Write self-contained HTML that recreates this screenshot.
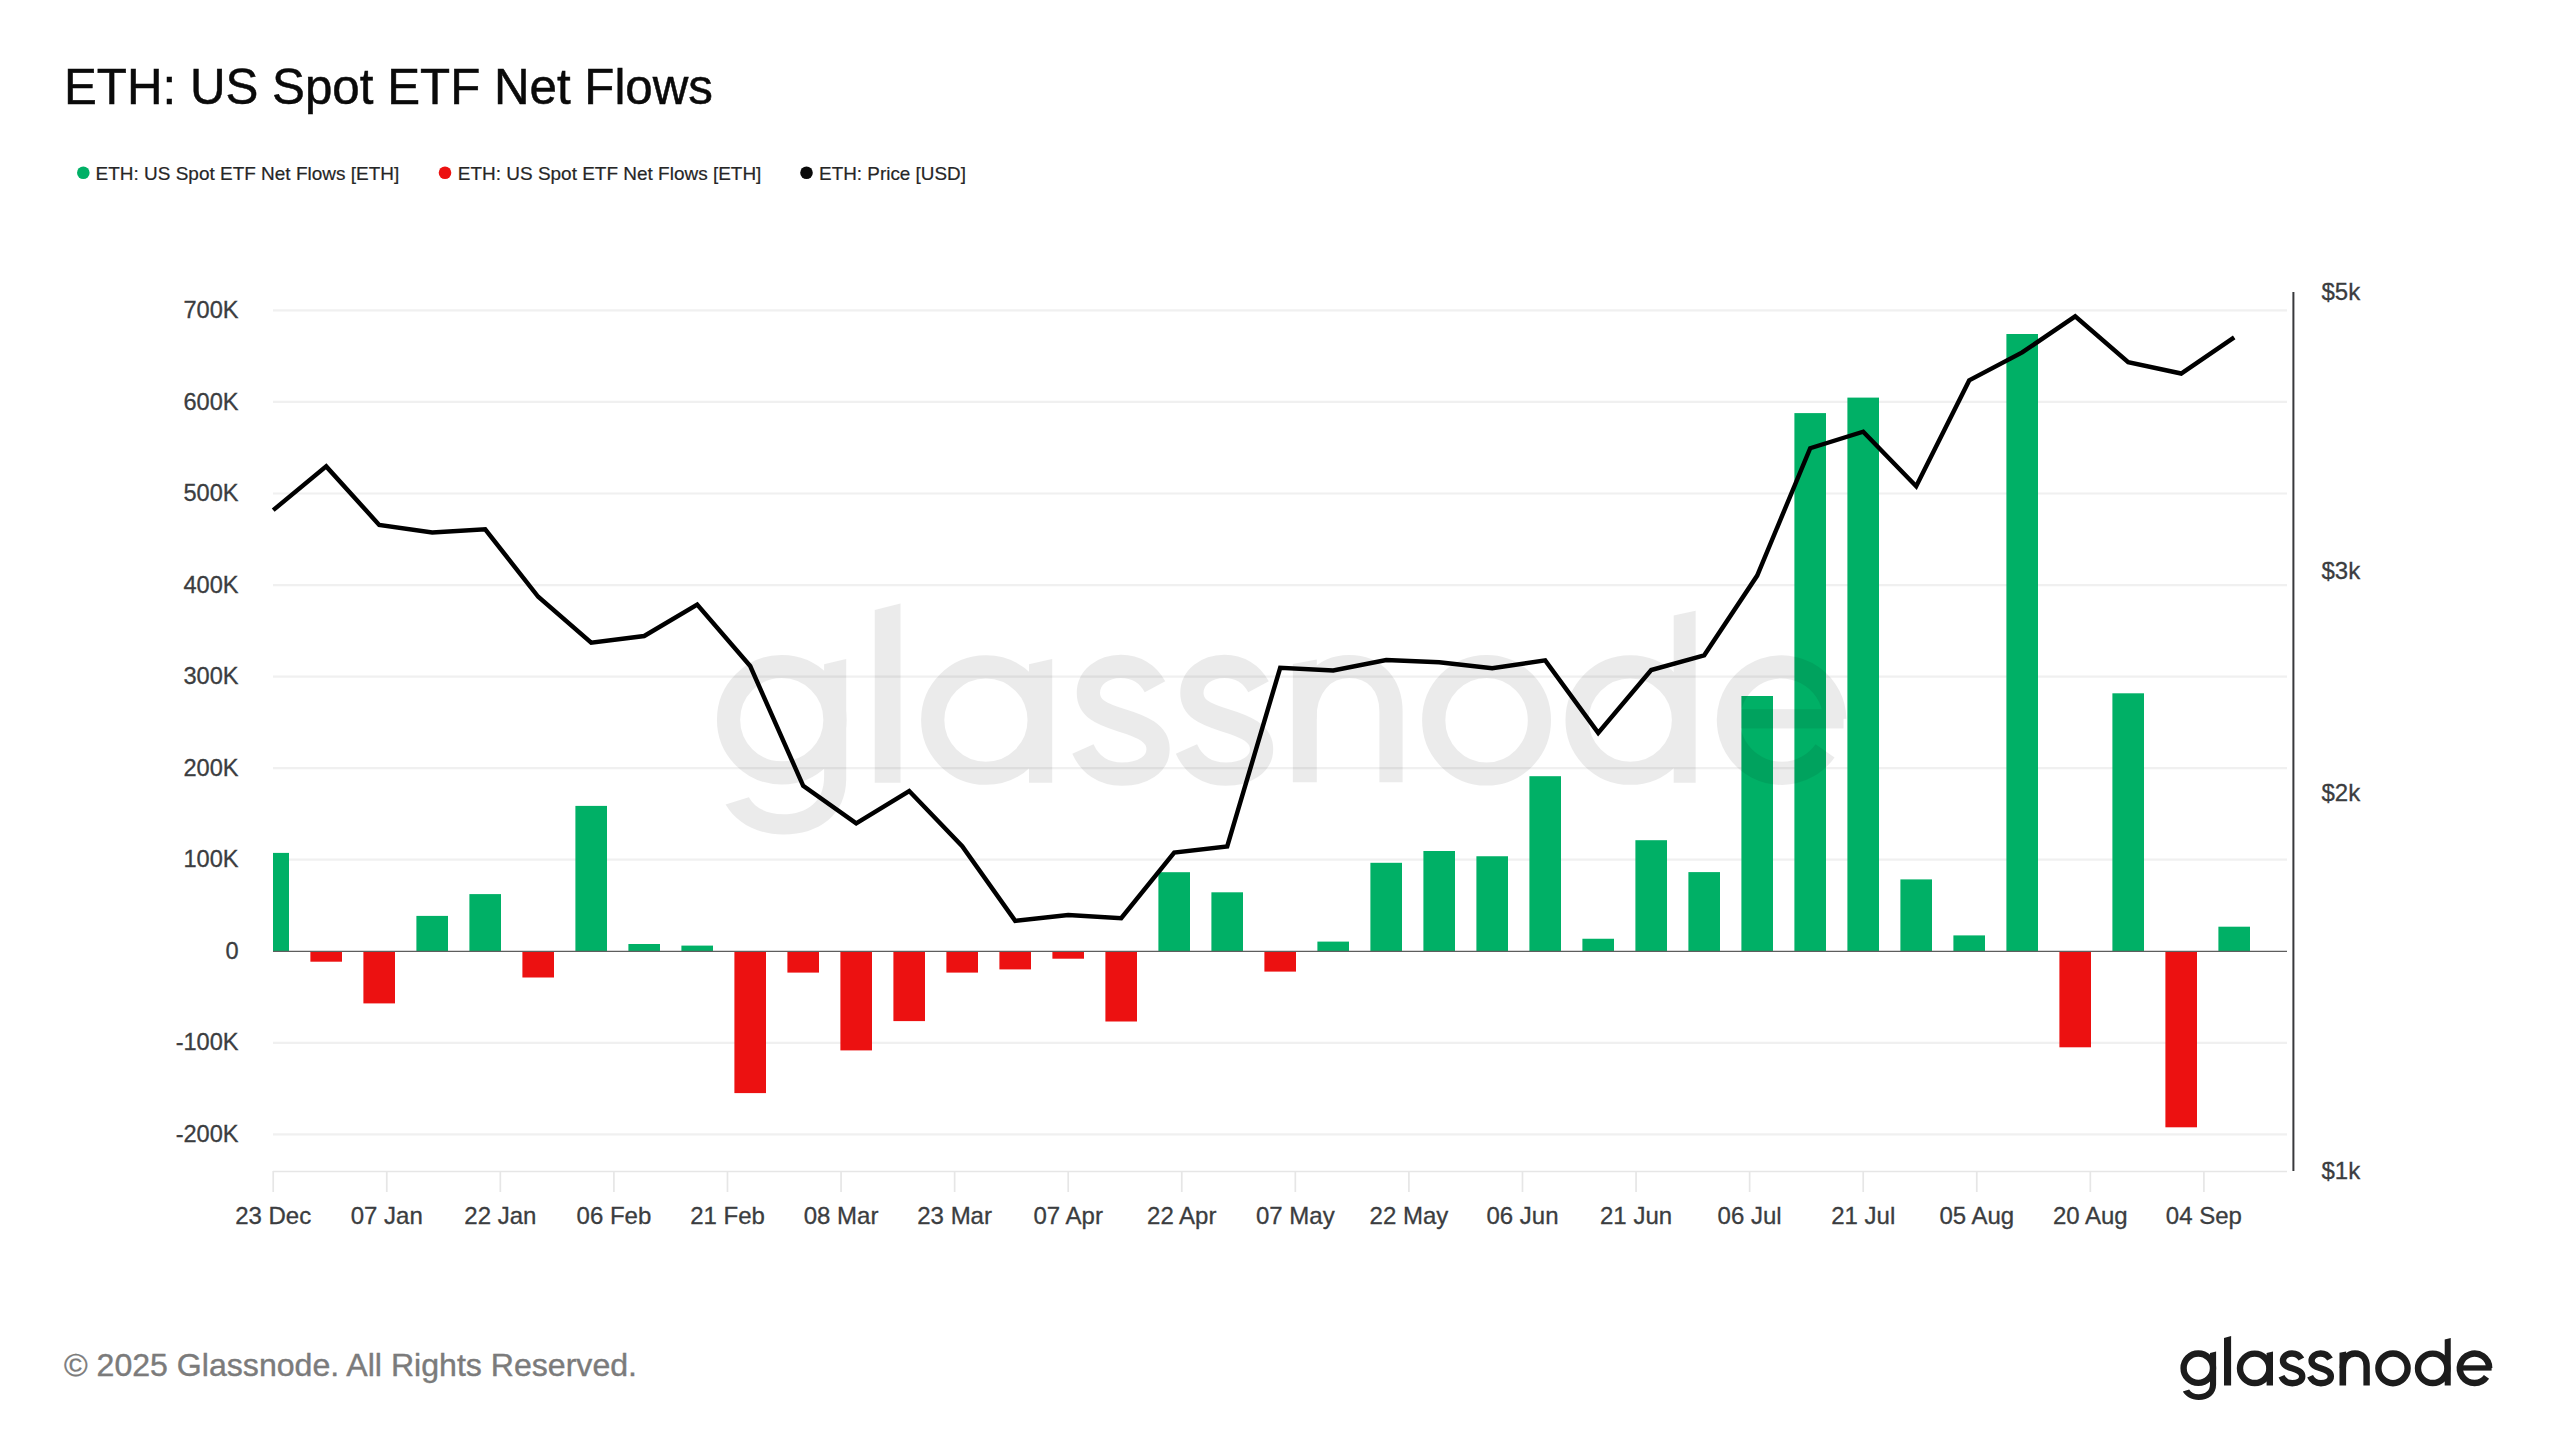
<!DOCTYPE html>
<html><head><meta charset="utf-8">
<style>
html,body{margin:0;padding:0;background:#fff;width:2560px;height:1440px;overflow:hidden}
svg{display:block}
text{font-family:"Liberation Sans",sans-serif}
.yl{font-size:23.6px;fill:#3b3d40;stroke:#3b3d40;stroke-width:0.3px}
.yr{font-size:24px;fill:#3b3d40;stroke:#3b3d40;stroke-width:0.3px}
.xl{font-size:24px;fill:#3b3d40;stroke:#3b3d40;stroke-width:0.3px}
.lg{font-size:19px;fill:#262626;stroke:#262626;stroke-width:0.2px}
</style></head><body>
<svg width="2560" height="1440" viewBox="0 0 2560 1440">
<defs><g id="gn"><circle cx="2198.3" cy="1368.2" r="14.7" fill="none" stroke-width="6.4"/><path stroke="none" d="M2210.0,1352.9 L2216.1,1351.4 L2216.1,1384.5 C2216.1,1394.5 2208.5,1399.9 2198.8,1399.9 C2191.2,1399.9 2185.6,1396.4 2182.8,1391.6 L2189.2,1389.6 C2190.9,1392.6 2194.2,1394.3 2198.6,1394.3 C2205.6,1394.3 2210.0,1390.6 2210.0,1384.0 Z"/><path stroke="none" d="M2224.0,1337.9 L2231.1,1336.1 L2231.1,1385.6 L2224.0,1385.6 Z"/><circle cx="2254.7" cy="1368.3" r="14.7" fill="none" stroke-width="6.4"/><path stroke="none" d="M2266.6,1352.9 L2273.0,1351.4 L2273.0,1385.6 L2266.6,1385.6 Z"/><path fill="none" stroke-width="6.4" d="M2301.4,1359.1 C2299.5,1355.5 2296,1353.45 2292,1353.45 C2287,1353.45 2283,1356.5 2283,1360.8 C2283,1365 2286.5,1366.6 2292,1368.3 C2298,1370.1 2302.25,1372 2302.25,1376.3 C2302.25,1380.6 2298,1383.25 2292.3,1383.25 C2287,1383.25 2283.4,1380.6 2281.5,1376.3"/><path fill="none" stroke-width="6.4" transform="translate(28.6,0)" d="M2301.4,1359.1 C2299.5,1355.5 2296,1353.45 2292,1353.45 C2287,1353.45 2283,1356.5 2283,1360.8 C2283,1365 2286.5,1366.6 2292,1368.3 C2298,1370.1 2302.25,1372 2302.25,1376.3 C2302.25,1380.6 2298,1383.25 2292.3,1383.25 C2287,1383.25 2283.4,1380.6 2281.5,1376.3"/><path stroke="none" d="M2339.5,1352.8 L2346.1,1351.6 L2346.1,1385.5 L2339.5,1385.5 Z"/><path fill="none" stroke-width="6.4" d="M2342.8,1368 C2342.8,1359 2348,1353.5 2355,1353.5 C2362.2,1353.5 2366.6,1358.6 2366.6,1366 L2366.6,1385.5"/><ellipse cx="2393.0" cy="1368.35" rx="14.6" ry="14.85" fill="none" stroke-width="6.4"/><circle cx="2432.7" cy="1368.3" r="14.7" fill="none" stroke-width="6.4"/><path stroke="none" d="M2444.7,1339.4 L2450.75,1338.1 L2450.75,1385.6 L2444.7,1385.6 Z"/><rect stroke="none" x="2461" y="1365.3" width="30.6" height="5.3"/><path fill="none" stroke-width="6.4" d="M2489.2,1368.0 A14.7,14.7 0 1 0 2486.5,1376.8"/></g></defs>
<rect width="2560" height="1440" fill="#fff"/>
<text x="64" y="103.9" style="font-size:50px;fill:#0a0a0a" textLength="649" stroke="#0a0a0a" stroke-width="0.5" lengthAdjust="spacingAndGlyphs">ETH: US Spot ETF Net Flows</text>
<circle cx="83.3" cy="172.8" r="6.3" fill="#00b066"/>
<text x="95.6" y="179.7" class="lg" textLength="303.6" lengthAdjust="spacingAndGlyphs">ETH: US Spot ETF Net Flows [ETH]</text>
<circle cx="445" cy="172.8" r="6.3" fill="#ec1111"/>
<text x="457.8" y="179.7" class="lg" textLength="303.6" lengthAdjust="spacingAndGlyphs">ETH: US Spot ETF Net Flows [ETH]</text>
<circle cx="806.5" cy="172.8" r="6.3" fill="#0a0a0a"/>
<text x="819.1" y="179.7" class="lg" textLength="146.8" lengthAdjust="spacingAndGlyphs">ETH: Price [USD]</text>
<line x1="273" y1="310.4" x2="2287" y2="310.4" stroke="#f0f0f0" stroke-width="2.2"/><line x1="273" y1="401.95" x2="2287" y2="401.95" stroke="#f0f0f0" stroke-width="2.2"/><line x1="273" y1="493.5" x2="2287" y2="493.5" stroke="#f0f0f0" stroke-width="2.2"/><line x1="273" y1="585.05" x2="2287" y2="585.05" stroke="#f0f0f0" stroke-width="2.2"/><line x1="273" y1="676.6" x2="2287" y2="676.6" stroke="#f0f0f0" stroke-width="2.2"/><line x1="273" y1="768.15" x2="2287" y2="768.15" stroke="#f0f0f0" stroke-width="2.2"/><line x1="273" y1="859.7" x2="2287" y2="859.7" stroke="#f0f0f0" stroke-width="2.2"/><line x1="273" y1="1042.8" x2="2287" y2="1042.8" stroke="#f0f0f0" stroke-width="2.2"/><line x1="273" y1="1134.35" x2="2287" y2="1134.35" stroke="#f0f0f0" stroke-width="2.2"/><line x1="273" y1="1171.5" x2="2287" y2="1171.5" stroke="#e6e6e6" stroke-width="1.7"/><line x1="273.2" y1="1171" x2="273.2" y2="1192" stroke="#e6e6e6" stroke-width="1.7"/><text x="273.2" y="1223.5" text-anchor="middle" class="xl">23 Dec</text><line x1="386.77" y1="1171" x2="386.77" y2="1192" stroke="#e6e6e6" stroke-width="1.7"/><text x="386.77" y="1223.5" text-anchor="middle" class="xl">07 Jan</text><line x1="500.34" y1="1171" x2="500.34" y2="1192" stroke="#e6e6e6" stroke-width="1.7"/><text x="500.34" y="1223.5" text-anchor="middle" class="xl">22 Jan</text><line x1="613.91" y1="1171" x2="613.91" y2="1192" stroke="#e6e6e6" stroke-width="1.7"/><text x="613.91" y="1223.5" text-anchor="middle" class="xl">06 Feb</text><line x1="727.49" y1="1171" x2="727.49" y2="1192" stroke="#e6e6e6" stroke-width="1.7"/><text x="727.49" y="1223.5" text-anchor="middle" class="xl">21 Feb</text><line x1="841.06" y1="1171" x2="841.06" y2="1192" stroke="#e6e6e6" stroke-width="1.7"/><text x="841.06" y="1223.5" text-anchor="middle" class="xl">08 Mar</text><line x1="954.63" y1="1171" x2="954.63" y2="1192" stroke="#e6e6e6" stroke-width="1.7"/><text x="954.63" y="1223.5" text-anchor="middle" class="xl">23 Mar</text><line x1="1068.2" y1="1171" x2="1068.2" y2="1192" stroke="#e6e6e6" stroke-width="1.7"/><text x="1068.2" y="1223.5" text-anchor="middle" class="xl">07 Apr</text><line x1="1181.77" y1="1171" x2="1181.77" y2="1192" stroke="#e6e6e6" stroke-width="1.7"/><text x="1181.77" y="1223.5" text-anchor="middle" class="xl">22 Apr</text><line x1="1295.34" y1="1171" x2="1295.34" y2="1192" stroke="#e6e6e6" stroke-width="1.7"/><text x="1295.34" y="1223.5" text-anchor="middle" class="xl">07 May</text><line x1="1408.91" y1="1171" x2="1408.91" y2="1192" stroke="#e6e6e6" stroke-width="1.7"/><text x="1408.91" y="1223.5" text-anchor="middle" class="xl">22 May</text><line x1="1522.49" y1="1171" x2="1522.49" y2="1192" stroke="#e6e6e6" stroke-width="1.7"/><text x="1522.49" y="1223.5" text-anchor="middle" class="xl">06 Jun</text><line x1="1636.06" y1="1171" x2="1636.06" y2="1192" stroke="#e6e6e6" stroke-width="1.7"/><text x="1636.06" y="1223.5" text-anchor="middle" class="xl">21 Jun</text><line x1="1749.63" y1="1171" x2="1749.63" y2="1192" stroke="#e6e6e6" stroke-width="1.7"/><text x="1749.63" y="1223.5" text-anchor="middle" class="xl">06 Jul</text><line x1="1863.2" y1="1171" x2="1863.2" y2="1192" stroke="#e6e6e6" stroke-width="1.7"/><text x="1863.2" y="1223.5" text-anchor="middle" class="xl">21 Jul</text><line x1="1976.77" y1="1171" x2="1976.77" y2="1192" stroke="#e6e6e6" stroke-width="1.7"/><text x="1976.77" y="1223.5" text-anchor="middle" class="xl">05 Aug</text><line x1="2090.34" y1="1171" x2="2090.34" y2="1192" stroke="#e6e6e6" stroke-width="1.7"/><text x="2090.34" y="1223.5" text-anchor="middle" class="xl">20 Aug</text><line x1="2203.91" y1="1171" x2="2203.91" y2="1192" stroke="#e6e6e6" stroke-width="1.7"/><text x="2203.91" y="1223.5" text-anchor="middle" class="xl">04 Sep</text><text x="238.6" y="318" text-anchor="end" class="yl">700K</text><text x="238.6" y="409.55" text-anchor="end" class="yl">600K</text><text x="238.6" y="501.1" text-anchor="end" class="yl">500K</text><text x="238.6" y="592.65" text-anchor="end" class="yl">400K</text><text x="238.6" y="684.2" text-anchor="end" class="yl">300K</text><text x="238.6" y="775.75" text-anchor="end" class="yl">200K</text><text x="238.6" y="867.3" text-anchor="end" class="yl">100K</text><text x="238.6" y="958.85" text-anchor="end" class="yl">0</text><text x="238.6" y="1050.4" text-anchor="end" class="yl">-100K</text><text x="238.6" y="1141.95" text-anchor="end" class="yl">-200K</text><rect x="273" y="852.9" width="16" height="98.35" fill="#00b066"/><rect x="310.4" y="951.25" width="31.6" height="10.45" fill="#ec1111"/><rect x="363.4" y="951.25" width="31.6" height="52.15" fill="#ec1111"/><rect x="416.4" y="915.9" width="31.6" height="35.35" fill="#00b066"/><rect x="469.4" y="894.1" width="31.6" height="57.15" fill="#00b066"/><rect x="522.4" y="951.25" width="31.6" height="26.25" fill="#ec1111"/><rect x="575.4" y="805.9" width="31.6" height="145.35" fill="#00b066"/><rect x="628.4" y="944" width="31.6" height="7.25" fill="#00b066"/><rect x="681.4" y="945.6" width="31.6" height="5.65" fill="#00b066"/><rect x="734.4" y="951.25" width="31.6" height="141.85" fill="#ec1111"/><rect x="787.4" y="951.25" width="31.6" height="21.35" fill="#ec1111"/><rect x="840.4" y="951.25" width="31.6" height="99.15" fill="#ec1111"/><rect x="893.4" y="951.25" width="31.6" height="69.85" fill="#ec1111"/><rect x="946.4" y="951.25" width="31.6" height="21.35" fill="#ec1111"/><rect x="999.4" y="951.25" width="31.6" height="18.15" fill="#ec1111"/><rect x="1052.4" y="951.25" width="31.6" height="7.45" fill="#ec1111"/><rect x="1105.4" y="951.25" width="31.6" height="70.25" fill="#ec1111"/><rect x="1158.4" y="872.2" width="31.6" height="79.05" fill="#00b066"/><rect x="1211.4" y="892.3" width="31.6" height="58.95" fill="#00b066"/><rect x="1264.4" y="951.25" width="31.6" height="20.35" fill="#ec1111"/><rect x="1317.4" y="941.6" width="31.6" height="9.65" fill="#00b066"/><rect x="1370.4" y="862.8" width="31.6" height="88.45" fill="#00b066"/><rect x="1423.4" y="851" width="31.6" height="100.25" fill="#00b066"/><rect x="1476.4" y="856.25" width="31.6" height="95" fill="#00b066"/><rect x="1529.4" y="776.2" width="31.6" height="175.05" fill="#00b066"/><rect x="1582.4" y="938.75" width="31.6" height="12.5" fill="#00b066"/><rect x="1635.4" y="840.2" width="31.6" height="111.05" fill="#00b066"/><rect x="1688.4" y="872.1" width="31.6" height="79.15" fill="#00b066"/><rect x="1741.4" y="696" width="31.6" height="255.25" fill="#00b066"/><rect x="1794.4" y="413.1" width="31.6" height="538.15" fill="#00b066"/><rect x="1847.4" y="397.6" width="31.6" height="553.65" fill="#00b066"/><rect x="1900.4" y="879.4" width="31.6" height="71.85" fill="#00b066"/><rect x="1953.4" y="935.4" width="31.6" height="15.85" fill="#00b066"/><rect x="2006.4" y="334" width="31.6" height="617.25" fill="#00b066"/><rect x="2059.4" y="951.25" width="31.6" height="96.05" fill="#ec1111"/><rect x="2112.4" y="693.3" width="31.6" height="257.95" fill="#00b066"/><rect x="2165.4" y="951.25" width="31.6" height="176.05" fill="#ec1111"/><rect x="2218.4" y="926.7" width="31.6" height="24.55" fill="#00b066"/><line x1="273" y1="951.4" x2="2287" y2="951.4" stroke="#5e5e5e" stroke-width="1.1"/><polyline points="273.2,510.1 326.2,466.4 379.2,524.9 432.2,532.4 485.2,529.4 538.2,596.8 591.2,642.7 644.2,636 697.2,604.5 750.2,666 803.2,785.8 856.2,823.3 909.2,791 962.2,846.25 1015.2,920.8 1068.2,915 1121.2,918.1 1174.2,852.5 1227.2,846.5 1280.2,667.8 1333.2,670.4 1386.2,660 1439.2,662.2 1492.2,668.2 1545.2,660.4 1598.2,732.9 1651.2,670 1704.2,655.3 1757.2,575.6 1810.2,448.2 1863.2,431.7 1916.2,486.3 1969.2,380.4 2022.2,352.4 2075.2,316.3 2128.2,362.1 2181.2,373.5 2234.2,337.4" fill="none" stroke="#000" stroke-width="4.45" stroke-linejoin="miter" stroke-miterlimit="4"/><line x1="2293.4" y1="292" x2="2293.4" y2="1171" stroke="#38393c" stroke-width="2"/><text x="2321.5" y="300.2" class="yr">$5k</text><text x="2321.5" y="579.19" class="yr">$3k</text><text x="2321.5" y="800.64" class="yr">$2k</text><text x="2321.5" y="1179.2" class="yr">$1k</text>
<use href="#gn" fill="#000" stroke="#000" opacity="0.075" transform="translate(-7176.09,-4233.17) scale(3.62)"/>
<text x="64" y="1375.7" style="font-size:32px;fill:#7b7b7b;stroke:#7b7b7b;stroke-width:0.4px" textLength="573" lengthAdjust="spacingAndGlyphs">© 2025 Glassnode. All Rights Reserved.</text>
<use href="#gn" fill="#1c1c1c" stroke="#1c1c1c"/>
</svg>
</body></html>
